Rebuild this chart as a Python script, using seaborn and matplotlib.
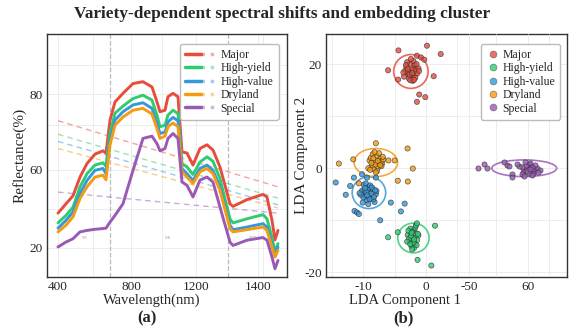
import numpy as np
import pandas as pd
import seaborn as sns
import matplotlib.pyplot as plt
from matplotlib.lines import Line2D
from matplotlib.patches import Ellipse
from matplotlib.legend_handler import HandlerTuple

# ---- data -------------------------------------------------------------
varieties = ["Major", "High-yield", "High-value", "Dryland", "Special"]
colors = ["#e74c3c", "#2ecc71", "#3498db", "#f39c12", "#9b59b6"]

wavelength = [400, 440, 475, 510, 545, 585, 625, 640, 660, 685, 725, 775, 825, 870,
              895, 910, 935, 950, 975, 1000, 1020, 1045, 1075, 1110, 1145, 1175, 1210,
              1260, 1275, 1345, 1425, 1445, 1470, 1485, 1500]
refl_major = [48.4, 50.9, 53.0, 58.0, 61.6, 64.1, 65.0, 64.3, 73.1, 78.0, 80.3, 82.9, 83.4, 82.0,
              78.0, 75.4, 75.8, 79.4, 80.3, 79.4, 64.7, 64.4, 61.2, 65.6, 66.6, 65.2, 60.7,
              50.9, 50.2, 52.0, 53.4, 52.7, 46.5, 41.3, 43.8]
refl_yield = [45.8, 47.8, 50.0, 55.4, 58.9, 61.2, 61.8, 60.9, 69.6, 75.0, 76.9, 78.9, 79.8, 78.5,
              74.5, 71.4, 71.8, 74.5, 75.8, 74.9, 61.6, 60.7, 58.7, 62.0, 63.4, 62.2, 57.6,
              46.9, 45.8, 46.9, 48.0, 46.9, 42.0, 38.0, 40.3]
refl_value = [44.4, 46.5, 48.7, 53.6, 57.1, 59.8, 60.3, 58.9, 67.8, 73.2, 75.4, 77.2, 77.8, 76.3,
              72.3, 69.6, 70.0, 72.7, 73.9, 73.0, 60.3, 58.9, 57.1, 60.3, 61.2, 59.8, 55.4,
              45.2, 44.0, 44.7, 45.6, 44.7, 40.3, 37.2, 39.4]
refl_dry = [43.4, 45.2, 47.4, 52.3, 55.4, 58.0, 58.5, 57.3, 66.5, 71.8, 74.0, 75.8, 76.3, 74.8,
            70.9, 68.3, 68.9, 71.4, 72.4, 71.4, 59.4, 58.0, 56.3, 59.4, 60.3, 58.9, 54.5,
            44.3, 43.4, 44.0, 44.7, 43.8, 39.4, 36.7, 38.5]
refl_special = [39.4, 40.7, 41.6, 43.4, 43.8, 44.1, 44.3, 44.4, 46.0, 47.8, 50.9, 59.8, 68.3, 68.9,
                66.9, 65.0, 65.6, 68.3, 69.6, 68.3, 56.7, 55.8, 52.7, 57.2, 58.0, 56.7, 50.0,
                40.7, 39.8, 41.2, 41.9, 41.2, 36.7, 33.6, 35.8]

# linear trend (dashed) start / end values at 400 and 1500 nm
trend_wl = [400, 1500]
trend_major = [73.0, 55.4]
trend_yield = [69.4, 52.4]
trend_value = [67.5, 50.6]
trend_dry = [65.6, 49.8]
trend_special = [54.0, 48.4]

spec_xticks = [400, 765, 1090, 1400]
spec_xticklabels = ["400", "800", "1200", "1400"]
spec_yticks = [80, 60, 39.2]
spec_yticklabels = ["80", "60", "20"]

# LDA embedding points
major_x = [-2.4, -1.9, -2.9, -2.2, -1.6, -3.1, -2.6, -1.4, -3.3, -2.0, -2.7, -1.8, -3.0, -2.3, -1.2,
           -2.8, -2.1, -3.5, -1.7, -2.5, -2.0, -3.2, -1.5, -2.6, -2.2, -1.9, -2.9, -3.6, -1.1, -2.4,
           -4.39, 0.16, 2.35, -6.04, -4.44, 1.23, -1.07, -1.44, -0.11, -1.44, -0.8, -0.27]
major_y = [18.6, 19.3, 18.1, 17.5, 18.9, 19.5, 20.1, 18.2, 18.8, 17.9, 17.2, 19.9, 20.4, 19.0, 19.2,
           18.5, 16.8, 17.6, 17.4, 16.9, 20.6, 19.8, 20.0, 18.0, 18.3, 17.0, 19.1, 18.4, 18.7, 21.0,
           22.65, 23.55, 21.95, 18.83, 17.04, 17.68, 14.17, 12.76, 13.66, 21.63, 21.3, 20.87]
yield_x = [-2.1, -1.6, -2.6, -2.0, -1.4, -2.9, -2.3, -1.8, -2.5, -1.2, -2.7, -1.9, -2.2, -1.5, -3.0,
           -2.4, -1.7, -2.0, -1.3, -2.8, -2.2, -1.9, -2.5, -1.6, -2.3,
           -1.44, 1.44, -6.04, -1.34, 0.86, -4.5]
yield_y = [-13.3, -12.5, -14.0, -11.9, -13.8, -12.8, -15.0, -14.5, -11.6, -12.9, -13.5, -15.3, -12.2,
           -14.8, -14.1, -13.0, -11.4, -14.3, -12.6, -12.0, -15.6, -13.7, -14.6, -11.0, -12.4,
           -10.6, -11.04, -13.27, -17.6, -18.7, -12.3]
value_x = [-9.1, -8.5, -9.7, -9.0, -8.0, -10.2, -9.4, -8.7, -9.9, -8.2, -10.0, -9.2, -8.8, -9.6, -7.9,
           -10.4, -9.3, -8.4, -9.8, -8.9, -10.1, -9.0, -8.6, -9.5, -8.3, -9.7, -9.2, -10.6, -8.1, -9.4,
           -14.4, -12.8, -12.1, -11.5, -11.4, -11.0, -10.7, -9.4, -8.0, -7.3, -5.6, -4.0, -3.4, -10.2]
value_y = [-4.7, -4.0, -5.3, -3.6, -5.0, -4.3, -6.2, -5.8, -3.2, -6.5, -5.6, -3.9, -4.9, -2.9, -4.4,
           -5.1, -5.4, -6.0, -4.1, -3.3, -6.6, -5.9, -3.7, -4.6, -5.5, -3.8, -6.9, -4.8, -4.2, -5.2,
           -2.74, -5.1, -3.4, -1.8, -8.2, -8.5, -8.8, -1.8, -1.8, -10.0, -6.6, -8.3, -6.8, -1.15]
dry_x = [-8.0, -7.4, -8.6, -7.9, -7.0, -9.0, -8.3, -7.6, -8.8, -7.2, -8.5, -7.8, -8.1, -6.8, -9.2,
         -8.4, -7.5, -8.0, -7.1, -8.7, -7.7, -8.2, -6.9, -8.9, -7.3,
         -13.9, -11.6, -8.0, -6.0, -5.0, -2.94, -2.1, -2.9, -4.5, -10.7]
dry_y = [1.1, 1.8, 0.5, 2.4, 0.9, 1.5, -0.2, 0.2, 2.0, 1.3, 2.7, -0.5, 0.7, 1.7, 0.0,
         1.9, 2.9, -0.8, 0.4, 1.0, 1.4, 3.1, 2.2, -0.3, 0.6,
         0.9, 1.7, 4.8, 1.5, 1.5, 3.8, -0.06, -2.55, -2.4, -2.9]
special_x = [60, 66, 53, 62, 72, 48, 69, 57, 77, 51, 64, 70, 44, 61, 82, 55, 67, 74, 49, 58, 68, 40,
             63, 79, 52, -32.6, -22, -17, 16, 20, 25, 30, 31]
special_y = [0.0, 0.4, -0.3, 0.8, -0.5, 0.3, -1.0, 0.6, 0.1, -0.7, 1.0, -0.2, 0.5, -0.9, -0.4, 1.2,
             -1.3, 0.7, -1.1, -0.6, 0.2, 0.9, -0.1, -0.8, -1.5, 0.1, 0.8, 0.0, 1.2, 0.6, 0.5, -1.2, -1.6]

# covariance ellipses: center x, center y, width, height
ell_major = (-2.4, 18.6, 5.5, 6.5)
ell_yield = (-2.0, -13.4, 5.0, 5.7)
ell_value = (-9.1, -4.7, 5.35, 6.1)
ell_dry = (-8.0, 1.1, 6.95, 5.4)
ell_special = (53, 0.0, 121, 3.2)

lda_xticks = [-10, 0]
lda_xticks2 = [-50, 60]
lda_xticklabels2 = ["-50", "60"]
lda_yticks = [20, 0, -20]

# ---- style --------------------------------------------------------------
sns.set_theme(style="white")
plt.rcParams["font.family"] = ["Liberation Serif", "DejaVu Serif"]
plt.rcParams["axes.unicode_minus"] = False
pal = dict(zip(varieties, colors))
grid_kw = dict(color="#e6e6e6", lw=0.5)

fig = plt.figure(figsize=(5.78, 3.33), dpi=100)
ax1 = fig.add_axes([0.0813, 0.1682, 0.4152, 0.7297])
ax2 = fig.add_axes([0.5640, 0.1682, 0.4170, 0.7297])
ax3 = fig.add_axes([0.7630, 0.1682, 0.2180, 0.7297])

# ---- (a) spectra --------------------------------------------------------
spec = pd.DataFrame({"Wavelength": wavelength * 5,
                     "Reflectance": refl_major + refl_yield + refl_value + refl_dry + refl_special,
                     "Variety": np.repeat(varieties, len(wavelength))})
sns.lineplot(data=spec, x="Wavelength", y="Reflectance", hue="Variety", palette=pal,
             lw=2.1, legend=False, ax=ax1, sort=False, zorder=3)
trends = [trend_major, trend_yield, trend_value, trend_dry, trend_special]
for tr, c in zip(trends, colors):
    ax1.plot(trend_wl, tr, ls=(0, (4, 3)), lw=1.0, color=c, alpha=0.5, zorder=2)

ax1.axvline(660, color="#bbbbbb", ls="--", lw=0.9, zorder=1)
ax1.axvline(1250, color="#bbbbbb", ls="--", lw=0.9, zorder=1)
for lbl, xx in zip(["VIS", "NIR", "SWIR"], [535, 952, 1377]):
    ax1.text(xx, 41.9, lbl, fontsize=2.5, color="#999999", ha="center", va="center")

ax1.set_xlim(345, 1545)
ax1.set_ylim(31.4, 96.1)
ax1.set_xticks(spec_xticks)
ax1.set_xticklabels(spec_xticklabels)
ax1.set_yticks(spec_yticks)
ax1.set_yticklabels(spec_yticklabels)
ax1.set_xticks([575, 920, 1425], minor=True)
ax1.set_yticks([87.8, 71.8, 49.6], minor=True)
ax1.grid(True, which="both", **grid_kw)
ax1.set_xlabel("Wavelength(nm)", fontsize=10.5)
ax1.set_ylabel("Reflectance(%)", fontsize=11)
ax1.xaxis.set_label_coords(0.4375, -0.07)
ax1.yaxis.set_label_coords(-0.085, 0.5)

handles = []
for c in colors:
    h1 = Line2D([], [], color=c, lw=2.5)
    h2 = Line2D([], [], color=c, lw=2.5, ls=":", alpha=0.45)
    handles.append((h1, h2))
ax1.legend(handles, varieties, handler_map={tuple: HandlerTuple(ndivide=None, pad=0)},
           loc="upper right", bbox_to_anchor=(0.99, 0.985), fontsize=8.5, handlelength=2.6,
           labelspacing=0.12, handletextpad=0.4, borderpad=0.45, frameon=True, fancybox=True,
           edgecolor="#bbbbbb", framealpha=1)

# ---- (b) LDA embedding ---------------------------------------------------
lda = pd.DataFrame({"LD1": major_x + yield_x + value_x + dry_x,
                    "LD2": major_y + yield_y + value_y + dry_y,
                    "Variety": ["Major"] * len(major_x) + ["High-yield"] * len(yield_x)
                               + ["High-value"] * len(value_x) + ["Dryland"] * len(dry_x)})
sns.scatterplot(data=lda, x="LD1", y="LD2", hue="Variety", palette=pal, s=14, alpha=0.8,
                edgecolor="#333333", linewidth=0.5, legend=False, ax=ax2, zorder=3)
for e, c in zip([ell_major, ell_yield, ell_value, ell_dry], colors[:4]):
    ax2.add_patch(Ellipse((e[0], e[1]), e[2], e[3], fill=False, ec=c, lw=1.2, alpha=0.85, zorder=2))

ax3.set_facecolor("none")
ax3.set_xlim(-102.2, 132.8)
ax3.set_ylim(-20.9, 25.8)
sp = pd.DataFrame({"LD1": special_x, "LD2": special_y})
sns.scatterplot(data=sp, x="LD1", y="LD2", color=colors[4], s=14, alpha=0.8,
                edgecolor="#333333", linewidth=0.5, legend=False, ax=ax3, zorder=3)
e = ell_special
ax3.add_patch(Ellipse((e[0], e[1]), e[2], e[3], fill=False, ec=colors[4], lw=1.2, alpha=0.85,
                      zorder=2, transform=ax3.transData))

ax2.set_xlim(-15.95, 22.5)
ax2.set_ylim(-20.9, 25.8)
ax2.set_xticks(lda_xticks)
ax2.set_yticks(lda_yticks)
ax2.set_xticks([-15, -5, 5], minor=True)
ax2.set_yticks([10, -10], minor=True)
ax2.grid(True, which="both", **grid_kw)
ax2.set_xlabel("LDA Component 1", fontsize=10.5)
ax2.set_ylabel("LDA Component 2", fontsize=11)
ax2.xaxis.set_label_coords(0.328, -0.07)
ax2.yaxis.set_label_coords(-0.075, 0.5)

ax3.set_xlim(-102.2, 132.8)
ax3.set_ylim(-20.9, 25.8)
ax3.set_xticks(lda_xticks2)
ax3.set_xticklabels(lda_xticklabels2)
ax3.set_xticks([0, 100], minor=True)
ax3.set_yticks([])
ax3.grid(True, axis="x", which="both", **grid_kw)
ax3.set_xlabel("")
ax3.set_ylabel("")
for s in ax3.spines.values():
    s.set_visible(False)

pts = [Line2D([], [], marker="o", ls="", color=c, markersize=5, alpha=0.8,
              markeredgecolor="#555555", markeredgewidth=0.4) for c in colors]
ax3.legend(pts, varieties, loc="upper right", bbox_to_anchor=(0.995, 0.985), fontsize=8.5,
           labelspacing=0.12, handletextpad=0.2, borderpad=0.45, handlelength=1.2,
           frameon=True, fancybox=True, edgecolor="#bbbbbb", framealpha=1)

for ax in (ax1, ax2, ax3):
    ax.tick_params(axis="both", which="major", labelsize=9.5, length=2, width=0.8,
                   color="#333333", pad=1)
    ax.tick_params(axis="both", which="minor", length=0)
for ax in (ax1, ax2):
    for s in ax.spines.values():
        s.set_color("#333333")
        s.set_linewidth(1.0)

fig.text(0.488, 0.958, "Variety-dependent spectral shifts and embedding cluster",
         ha="center", va="center", fontsize=12.4, fontweight="bold")
fig.text(147 / 578, 1 - 318 / 333, "(a)", ha="center", va="center", fontsize=12, fontweight="bold")
fig.text(403 / 578, 1 - 318 / 333, "(b)", ha="center", va="center", fontsize=12, fontweight="bold")

fig.savefig("out.png", dpi=100)
